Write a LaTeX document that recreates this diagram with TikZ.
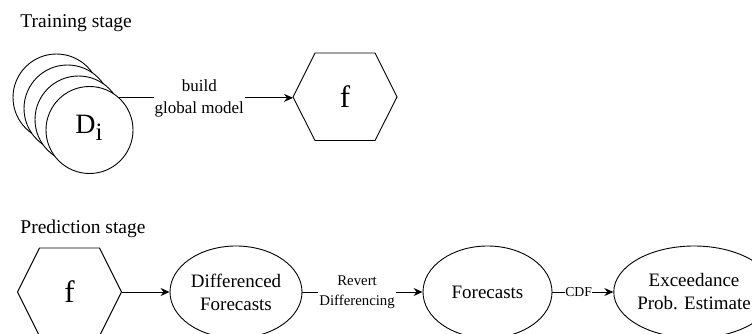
\documentclass[tikz,border=0pt]{standalone}
\usepackage{fontspec}
\setmainfont{Liberation Serif}
\usetikzlibrary{shapes.geometric,arrows.meta,calc}

\begin{document}
\begin{tikzpicture}[x=1pt,y=-1pt,line width=0.9pt,
  title/.style={font=\fontsize{19.5}{22}\selectfont,anchor=base west,inner sep=0pt},
  dataset/.style={circle,draw,fill=white,minimum size=87pt,inner sep=0pt},
  proc/.style={ellipse,draw,fill=white,minimum width=132pt,minimum height=92pt,inner sep=0pt,
    align=center,font=\fontsize{19}{23}\selectfont},
  modeltxt/.style={inner sep=0pt,font=\fontsize{31}{31}\selectfont},
  conn/.style={-{Stealth[length=9pt,width=8pt,inset=3pt]}},
  biglbl/.style={fill=white,inner sep=1pt,align=center,font=\fontsize{17}{22}\selectfont},
  smalllbl/.style={fill=white,inner sep=1pt,align=center,font=\fontsize{14.8}{20}\selectfont},
]
\useasboundingbox (0,0) rectangle (752,334);
\clip (0,0) rectangle (752,334);

% ---------- training stage ----------
\node[title] (ttrain) at (20,28) {Training stage};

% stack of data sets, drawn back to front
\node[dataset] (d4) at (56.5,97.5) {};
\node[dataset] (d3) at (67.5,108.5) {};
\node[dataset] (d2) at (78.5,119.5) {};
\node[dataset] (d1) at (89.5,130) {};
\node[inner sep=0pt,font=\fontsize{28}{28}\selectfont] (dlbl) at (89,128)
  {D\raisebox{-7pt}{\fontsize{25}{25}\selectfont i}};

% global model hexagon
\node[modeltxt] (fT) at (345,97) {f};
\coordinate (fTw) at ($(fT)+(-52,0)$);
\coordinate (fTe) at ($(fT)+(52,0)$);
\draw (fTw) -- ++(22,-44) -- ++(60,0) -- (fTe) -- ++(-22,43.5) -- ++(-60,0) -- cycle;

\draw[conn] (d1.47) -- (d1.47 -| fTw)
  node[biglbl,pos=0.46,yshift=-1pt] (build) {build\\global model};

% ---------- prediction stage ----------
\node[title] (tpred) at (20,233) {Prediction stage};

\node[modeltxt] (fB) at (69.5,292) {f};
\coordinate (fBw) at ($(fB)+(-52,0)$);
\coordinate (fBe) at ($(fB)+(52,0)$);
\draw (fBw) -- ++(22,-44) -- ++(60,0) -- (fBe) -- ++(-22,44) -- ++(-60,0) -- cycle;

\node[proc] (diff) at (236,292) {Differenced\\Forecasts};
\node[proc,minimum width=129pt] (fc) at (487.5,292) {Forecasts};
\node[proc] (exc) at (694,292) {Exceedance\\Prob. Estimate};

\draw[conn] (fBe) -- (diff.west);
\draw[conn] (diff.east) -- (fc.west)
  node[smalllbl,pos=0.455] (revert) {Revert\\Differencing};
\draw[conn] (fc.east) -- (exc.west)
  node[smalllbl,pos=0.43,inner xsep=0.5pt,font=\fontsize{13.7}{16}\selectfont] (cdf) {CDF};
\end{tikzpicture}
\end{document}
